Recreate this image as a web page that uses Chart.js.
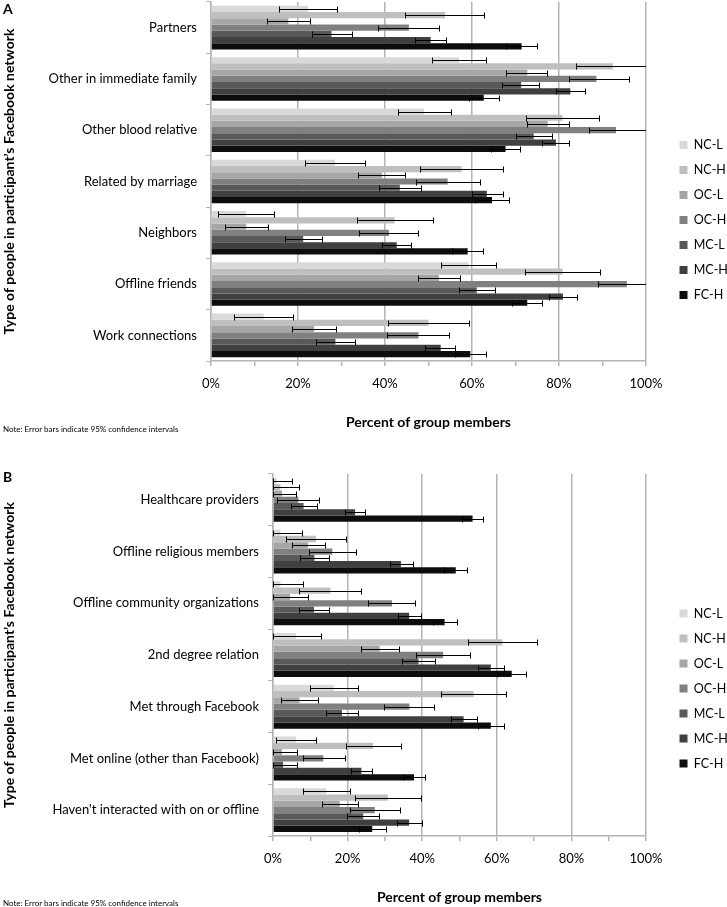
<!DOCTYPE html>
<html>
<head>
<meta charset="utf-8">
<script src="https://cdn.jsdelivr.net/npm/chart.js@4.4.1/dist/chart.umd.min.js"></script>
<style>
  body { margin: 0; background: #fff; font-family: Lato, sans-serif; }
  #wrap { position: relative; width: 727px; height: 907px; background: #fff; }
  .box { position: absolute; left: 0; width: 727px; }
  .panel { position: absolute; left: 3px; font-weight: bold; font-size: 14px; }
  .note { position: absolute; left: 3px; font-size: 8px; color: #000; }
</style>
</head>
<body>
<div id="wrap">
  <div class="box" style="top:0;height:440px"><canvas id="chartA" width="727" height="440"></canvas></div>
  <div class="box" style="top:470px;height:437px"><canvas id="chartB" width="727" height="437"></canvas></div>
  <div class="panel" style="top:0">A</div>
  <div class="panel" style="top:468px">B</div>
  <div class="note" style="top:424px">Note: Error bars indicate 95% confidence intervals</div>
  <div class="note" style="top:898px">Note: Error bars indicate 95% confidence intervals</div>
</div>
<script>
var seriesNames = ['NC-L', 'NC-H', 'OC-L', 'OC-H', 'MC-L', 'MC-H', 'FC-H'];
var seriesColors = ['#d9d9d9', '#bfbfbf', '#a6a6a6', '#808080', '#595959', '#404040', '#0d0d0d'];
var xTicks = [0, 20, 40, 60, 80, 100];

// Panel A
var categoriesA = ['Partners', 'Other in immediate family', 'Other blood relative',
    'Related by marriage', 'Neighbors', 'Offline friends', 'Work connections'];
// one row per series (NC-L ... FC-H), one column per category
var valuesA = [
    [22.3, 57.0, 49.0, 28.5, 8.1, 59.2, 12.1],
    [53.8, 92.4, 80.8, 57.6, 42.2, 80.8, 50.0],
    [17.8, 72.7, 77.4, 39.3, 8.1, 52.4, 23.7],
    [45.5, 88.6, 93.1, 54.4, 40.9, 95.6, 47.7],
    [27.7, 71.3, 74.2, 43.4, 21.2, 61.1, 28.6],
    [50.5, 82.6, 79.3, 63.4, 42.7, 80.9, 52.8],
    [71.4, 62.7, 67.7, 64.6, 59.0, 72.7, 59.6]
];
var lowA = [
    [15.6, 50.8, 42.9, 21.6, 1.6, 52.9, 5.3],
    [44.6, 83.8, 72.4, 48.1, 33.6, 72.2, 40.7],
    [12.8, 67.9, 72.7, 33.9, 3.2, 47.5, 18.6],
    [38.5, 82.2, 86.8, 47.2, 34.1, 88.9, 40.5],
    [23.3, 67.0, 70.0, 38.7, 17.0, 56.9, 24.1],
    [46.9, 79.4, 76.0, 59.9, 39.4, 77.6, 49.3],
    [67.8, 59.3, 64.3, 60.8, 55.5, 69.3, 56.0]
];
var highA = [
    [29.0, 63.3, 55.1, 35.4, 14.4, 65.5, 18.9],
    [62.8, 101, 89.2, 67.2, 51.0, 89.5, 59.3],
    [22.7, 77.3, 82.2, 44.5, 13.1, 57.2, 28.8],
    [52.5, 96.0, 101, 61.8, 47.5, 101, 54.8],
    [32.3, 75.5, 78.3, 48.2, 25.5, 65.4, 33.1],
    [54.1, 85.9, 82.4, 67.1, 46.0, 84.2, 56.2],
    [75.0, 66.1, 71.1, 68.4, 62.5, 76.2, 63.3]
];

// Panel B
var categoriesB = ['Healthcare providers', 'Offline religious members', 'Offline community organizations',
    '2nd degree relation', 'Met through Facebook', 'Met online (other than Facebook)',
    'Haven\'t interacted with on or offline'];
var valuesB = [
    [1.0, 2.0, 2.0, 6.2, 16.3, 6.2, 14.3],
    [2.0, 11.5, 15.4, 61.5, 53.8, 26.8, 30.8],
    [2.4, 9.4, 4.6, 28.6, 7.1, 2.4, 17.9],
    [6.8, 15.9, 31.9, 45.6, 36.6, 13.5, 27.3],
    [8.2, 11.1, 11.0, 39.0, 18.5, 2.7, 24.2],
    [22.0, 34.3, 36.5, 58.4, 51.1, 23.7, 36.5],
    [53.5, 49.0, 46.0, 64.0, 58.4, 37.8, 26.6]
];
var lowB = [
    [0, 0, 0, 0, 9.8, 0.9, 8.0],
    [0, 3.5, 7.1, 52.4, 45.0, 19.6, 22.1],
    [0, 5.0, 0, 23.6, 2.1, 0, 13.1],
    [1.2, 9.6, 25.4, 38.4, 29.7, 8.0, 20.7],
    [4.7, 7.2, 7.1, 34.5, 14.1, 0, 19.8],
    [19.2, 31.3, 33.4, 54.9, 47.6, 20.9, 33.2],
    [50.7, 45.9, 42.9, 60.1, 55.0, 34.8, 23.1]
];
var highB = [
    [5.1, 7.7, 8.0, 12.8, 22.7, 11.4, 20.6],
    [7.1, 19.5, 23.6, 70.8, 62.6, 34.2, 39.6],
    [6.2, 14.0, 9.3, 33.7, 12.0, 6.4, 22.7],
    [12.2, 22.2, 38.0, 52.7, 43.1, 19.2, 34.0],
    [11.7, 14.9, 15.0, 43.4, 22.9, 6.4, 28.3],
    [24.7, 37.4, 39.6, 61.8, 54.6, 26.5, 39.9],
    [56.3, 52.1, 49.3, 67.7, 61.9, 40.8, 30.2]
];

var gridGray = '#b4b4b4';
var font = 'Lato';

// draws the confidence interval whiskers from the x scale
var errorBars = {
    id: 'errorBars',
    afterDatasetsDraw: function(chart) {
        var ctx = chart.ctx;
        var xs = chart.scales.x;
        var area = chart.chartArea;
        ctx.save();
        ctx.beginPath();
        ctx.rect(area.left - 1, area.top - 5, area.right - area.left + 1, area.bottom - area.top + 10);
        ctx.clip();
        ctx.strokeStyle = '#000';
        ctx.lineWidth = 1;
        chart.data.datasets.forEach(function(ds, i) {
            var meta = chart.getDatasetMeta(i);
            meta.data.forEach(function(bar, j) {
                var y = Math.round(bar.y) + 0.5;
                var x1 = Math.round(xs.getPixelForValue(ds.errLow[j])) + 0.5;
                var x2 = Math.round(xs.getPixelForValue(ds.errHigh[j])) + 0.5;
                ctx.beginPath();
                ctx.moveTo(x1, y); ctx.lineTo(x2, y);
                ctx.moveTo(x1, y - 3); ctx.lineTo(x1, y + 3);
                ctx.moveTo(x2, y - 3); ctx.lineTo(x2, y + 3);
                ctx.stroke();
            });
        });
        ctx.restore();
    }
};

function noPad(s) {
    s.paddingTop = 0; s.paddingBottom = 0; s.paddingLeft = 0; s.paddingRight = 0;
}

// leftWidth: y axis box, topGap: space above plot, axisHeight: x axis box
function makeChart(id, cats, vals, lows, highs, leftWidth, topGap, axisHeight, titleBottom) {
    var datasets = seriesNames.map(function(name, i) {
        return {
            label: name,
            data: vals[i],
            errLow: lows[i],
            errHigh: highs[i],
            backgroundColor: seriesColors[i],
            borderWidth: 0,
            categoryPercentage: 0.85,
            barPercentage: 1.0
        };
    });
    return new Chart(document.getElementById(id).getContext('2d'), {
        type: 'bar',
        data: { labels: cats, datasets: datasets },
        plugins: [errorBars],
        options: {
            indexAxis: 'y',
            responsive: false,
            animation: false,
            layout: { padding: 0 },
            scales: {
                x: {
                    min: 0,
                    max: 100,
                    ticks: {
                        stepSize: 10,
                        padding: 10,
                        maxRotation: 0,
                        minRotation: 0,
                        autoSkip: false,
                        color: '#000',
                        font: { family: font, size: 13 },
                        callback: function(v) { return xTicks.indexOf(v) >= 0 ? v + '%' : ''; }
                    },
                    grid: {
                        color: function(c) { return c.tick && xTicks.indexOf(c.tick.value) >= 0 ? gridGray : 'rgba(0,0,0,0)'; },
                        tickColor: gridGray,
                        tickLength: 5,
                        lineWidth: 1.5
                    },
                    border: { color: gridGray, width: 1.5 },
                    title: {
                        display: true,
                        text: 'Percent of group members',
                        color: '#000',
                        font: { family: font, size: 14, weight: 'bold' },
                        padding: { top: 0, bottom: titleBottom }
                    },
                    afterFit: function(s) { noPad(s); s.height = axisHeight; }
                },
                topGap: {
                    type: 'linear',
                    axis: 'x',
                    position: 'top',
                    grid: { display: false, drawTicks: false },
                    ticks: { display: false },
                    border: { display: false },
                    afterFit: function(s) { noPad(s); s.height = topGap; }
                },
                y: {
                    ticks: { padding: 9, color: '#000', font: { family: font, size: 13 } },
                    grid: { drawOnChartArea: false, tickColor: gridGray, tickLength: 5 },
                    border: { color: gridGray, width: 1.5 },
                    title: {
                        display: true,
                        text: 'Type of people in participant\u2019s Facebook network',
                        color: '#000',
                        font: { family: font, size: 14, weight: 'bold' },
                        padding: { top: 1, bottom: 0 }
                    },
                    afterFit: function(s) { noPad(s); s.width = leftWidth; }
                },
                rightGap: {
                    type: 'linear',
                    axis: 'y',
                    position: 'right',
                    grid: { display: false, drawTicks: false },
                    ticks: { display: false },
                    border: { display: false },
                    afterFit: function(s) { noPad(s); s.width = 21; }
                }
            },
            plugins: {
                legend: {
                    position: 'right',
                    maxWidth: 60,
                    labels: {
                        boxWidth: 8,
                        boxHeight: 8,
                        padding: 12.5,
                        color: '#000',
                        font: { family: font, size: 12.5 }
                    }
                },
                tooltip: { enabled: false }
            }
        }
    });
}

makeChart('chartA', categoriesA, valuesA, lowA, highA, 211, 2, 79, 9.6);
makeChart('chartB', categoriesB, valuesB, lowB, highB, 273, 4, 71, 1.6);
</script>
</body>
</html>
